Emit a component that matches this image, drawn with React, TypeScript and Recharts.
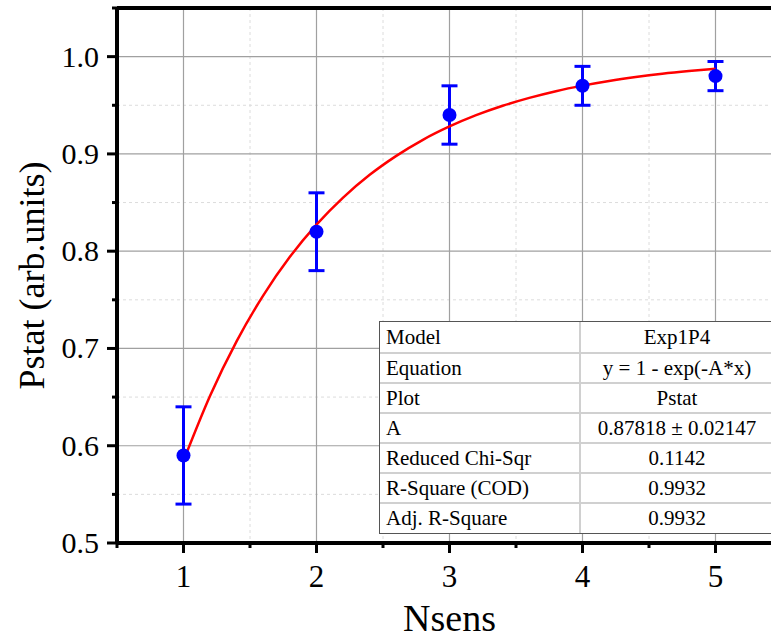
import React from 'react';
import {
  ComposedChart,
  Scatter,
  Line,
  XAxis,
  YAxis,
  CartesianGrid,
  ErrorBar,
  ReferenceLine,
} from 'recharts';

// Measured detection probability vs. number of sensors
const nsens = [1, 2, 3, 4, 5];
const pstat = [0.59, 0.82, 0.94, 0.97, 0.98];
const pstatErr = [0.05, 0.04, 0.03, 0.02, 0.015];

// Fitted curve y = 1 - exp(-A*x), A = 0.87818
const fitX = [1.0, 1.2, 1.4, 1.6, 1.8, 2.0, 2.2, 2.4, 2.6, 2.8, 3.0, 3.2, 3.4, 3.6, 3.8, 4.0, 4.2, 4.4, 4.6, 4.8, 5.0];
const fitY = [
  0.5845, 0.6514, 0.7075, 0.7546, 0.7942, 0.8273, 0.8551, 0.8785, 0.898, 0.9145, 0.9282,
  0.9398, 0.9495, 0.9576, 0.9645, 0.9702, 0.975, 0.979, 0.9824, 0.9852, 0.9876,
];

// Axis ticks (major ones get labels)
const xTicks = [0.5, 1, 1.5, 2, 2.5, 3, 3.5, 4, 4.5, 5, 5.5];
const xMajor = [1, 2, 3, 4, 5];
const xMinor = [1.5, 2.5, 3.5, 4.5];
const yTicks = [0.5, 0.55, 0.6, 0.65, 0.7, 0.75, 0.8, 0.85, 0.9, 0.95, 1.0, 1.05];
const yMajor = [0.5, 0.6, 0.7, 0.8, 0.9, 1.0];
const yMinor = [0.55, 0.65, 0.75, 0.85, 0.95];

// Fit summary table
const tableLabels = ['Model', 'Equation', 'Plot', 'A', 'Reduced Chi-Sqr', 'R-Square (COD)', 'Adj. R-Square'];
const tableValues = ['Exp1P4', 'y = 1 - exp(-A*x)', 'Pstat', '0.87818 \u00b1 0.02147', '0.1142', '0.9932', '0.9932'];

const points = nsens.map((x, i) => ({ x, y: pstat[i], err: pstatErr[i] }));
const fitData = fitX.map((x, i) => ({ x, y: fitY[i] }));

const FONT = '"Liberation Serif", "Times New Roman", serif';
const isIn = (arr: number[], v: number) => arr.some((a) => Math.abs(a - v) < 1e-9);

const XTick = (props: any) => {
  const { x, y, payload } = props;
  const major = isIn(xMajor, payload.value);
  return (
    <g>
      <line x1={x} x2={x} y1={y} y2={y + (major ? 10 : 5)} stroke="#000" strokeWidth={3} />
      {major && (
        <text x={x} y={y + 44} textAnchor="middle" fontFamily={FONT} fontSize={31} fill="#000">
          {payload.value}
        </text>
      )}
    </g>
  );
};

const YTick = (props: any) => {
  const { x, y, payload } = props;
  const major = isIn(yMajor, payload.value);
  return (
    <g>
      <line x1={x} x2={x - (major ? 10 : 5)} y1={y} y2={y} stroke="#000" strokeWidth={3} />
      {major && (
        <text x={x - 18} y={y + 10} textAnchor="end" fontFamily={FONT} fontSize={30} fill="#000">
          {payload.value.toFixed(1)}
        </text>
      )}
    </g>
  );
};

const Dot = (props: any) => <circle cx={props.cx} cy={props.cy} r={7} fill="#0000ff" />;

export default function App() {
  return (
    <div
      style={{
        position: 'absolute',
        left: 0,
        top: 0,
        width: 771,
        height: 642,
        overflow: 'hidden',
        background: '#fff',
      }}
    >
      <ComposedChart width={800} height={642} margin={{ top: 8, right: 18, bottom: 0, left: 0 }}>
        <CartesianGrid
          stroke="#dcdcdc"
          strokeDasharray="3 3"
          horizontalValues={yMinor}
          verticalValues={xMinor}
        />
        <CartesianGrid stroke="#a0a0a0" strokeWidth={1.2} horizontalValues={yMajor} verticalValues={xMajor} />
        <XAxis
          type="number"
          dataKey="x"
          domain={[0.5, 5.5]}
          ticks={xTicks}
          interval={0}
          allowDataOverflow
          height={99}
          tickSize={0}
          tickMargin={0}
          tickLine={false}
          tick={<XTick />}
          axisLine={{ stroke: '#000', strokeWidth: 4 }}
          label={{
            value: 'Nsens',
            position: 'center',
            dy: 25,
            style: { fontFamily: FONT, fontSize: 38, fill: '#000' },
          }}
        />
        <YAxis
          type="number"
          dataKey="y"
          domain={[0.5, 1.05]}
          ticks={yTicks}
          interval={0}
          allowDataOverflow
          width={117}
          tickSize={0}
          tickMargin={0}
          tickLine={false}
          tick={<YTick />}
          axisLine={{ stroke: '#000', strokeWidth: 4 }}
          label={{
            value: 'Pstat (arb.units)',
            angle: -90,
            position: 'center',
            dx: -27,
            style: { fontFamily: FONT, fontSize: 36, fill: '#000', textAnchor: 'middle' },
          }}
        />
        <ReferenceLine y={1.05} stroke="#000" strokeWidth={4} />
        <Scatter data={points} dataKey="y" shape={<Dot />} isAnimationActive={false}>
          <ErrorBar dataKey="err" direction="y" width={8} stroke="#0000ff" strokeWidth={3} />
        </Scatter>
        <Line
          data={fitData}
          dataKey="y"
          type="monotone"
          stroke="#ff0000"
          strokeWidth={2.5}
          dot={false}
          activeDot={false}
          isAnimationActive={false}
        />
      </ComposedChart>
      <div
        style={{
          position: 'absolute',
          left: 379,
          top: 321,
          width: 395,
          background: '#fff',
          border: '1.5px solid #555',
          boxSizing: 'border-box',
          fontFamily: FONT,
          fontSize: 21,
          color: '#000',
        }}
      >
        <table style={{ borderCollapse: 'collapse', width: '100%' }}>
          <tbody>
            {tableLabels.map((lab, i) => (
              <tr key={lab} style={{ height: i === 0 ? 30.5 : 30 }}>
                <td
                  style={{
                    width: 193,
                    padding: '0 0 0 6px',
                    borderRight: '2px solid #d0d0d0',
                    borderTop: i === 0 ? 'none' : '2px solid #d0d0d0',
                    lineHeight: '28px',
                  }}
                >
                  {lab}
                </td>
                <td
                  style={{
                    textAlign: 'center',
                    padding: 0,
                    borderTop: i === 0 ? 'none' : '2px solid #d0d0d0',
                    lineHeight: '28px',
                  }}
                >
                  {tableValues[i]}
                </td>
              </tr>
            ))}
          </tbody>
        </table>
      </div>
    </div>
  );
}
